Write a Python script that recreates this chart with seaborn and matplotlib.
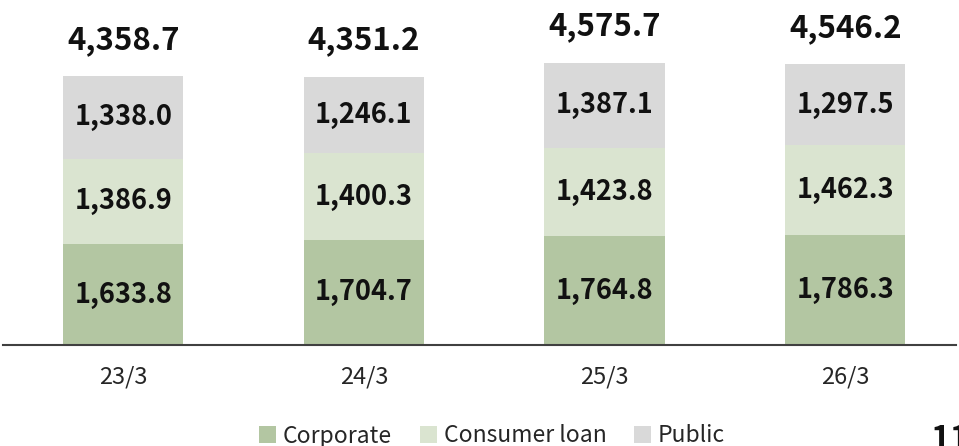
import matplotlib

matplotlib.use("Agg")

import matplotlib.pyplot as plt
import pandas as pd
import seaborn as sns
from matplotlib.patches import Patch

periods = ["23/3", "24/3", "25/3", "26/3"]
corporate = [1633.8, 1704.7, 1764.8, 1786.3]
consumer_loan = [1386.9, 1400.3, 1423.8, 1462.3]
public = [1338.0, 1246.1, 1387.1, 1297.5]
totals = [4358.7, 4351.2, 4575.7, 4546.2]

series_names = ["Corporate", "Consumer loan", "Public"]
colors = ["#B3C6A2", "#DAE4D0", "#D9D9D9"]

sns.set_style("white")
plt.rcParams["font.family"] = ["Noto Sans CJK JP", "DejaVu Sans"]

df = pd.DataFrame({
    "Period": periods,
    "Corporate": corporate,
    "Consumer loan": consumer_loan,
    "Public": public,
})
df["c1"] = df["Corporate"]
df["c2"] = df["c1"] + df["Consumer loan"]
df["c3"] = df["c2"] + df["Public"]

fig = plt.figure(figsize=(9.59, 4.46), dpi=100)
ax = fig.add_axes([3 / 959, 1 - 345 / 446, 953 / 959, 345 / 446])

# draw cumulative heights from the top down so each layer covers the one beneath
for col, color in zip(["c3", "c2", "c1"], colors[::-1]):
    sns.barplot(data=df, x="Period", y=col, color=color, width=0.5,
                saturation=1, ax=ax, edgecolor="none", linewidth=0)

ax.set_ylim(0, 5591)
ax.set_xlim(-0.5, 3.46)
ax.set_xlabel("")
ax.set_ylabel("")
ax.set_yticks([])
sns.despine(ax=ax, left=True, right=True, top=True)
ax.spines["bottom"].set_color("#404040")
ax.spines["bottom"].set_linewidth(1.5)
ax.tick_params(axis="x", length=0, pad=15, labelsize=17, labelcolor="#262626")

for i in range(len(periods)):
    bottoms = [0, corporate[i], corporate[i] + consumer_loan[i]]
    for b, v in zip(bottoms, [corporate[i], consumer_loan[i], public[i]]):
        ax.text(i, b + v / 2, f"{v:,.1f}", ha="center", va="center",
                fontsize=19.5, fontweight="bold", color="#111111")
    ax.annotate(f"{totals[i]:,.1f}", xy=(i, df["c3"][i]), xytext=(0, 26),
                textcoords="offset points", ha="center", va="center",
                fontsize=22.5, fontweight="bold", color="#111111")

handles = [Patch(facecolor=c, edgecolor="none") for c in colors]
fig.legend(handles, series_names, loc="center", bbox_to_anchor=(492 / 959, 1 - 436 / 446),
           ncol=3, frameon=False, fontsize=16.5, handlelength=0.75, handleheight=0.75,
           handletextpad=0.3, columnspacing=1.2, labelcolor="#262626")

fig.text(930 / 959, 1 - 440 / 446, "11", ha="left", va="center",
         fontsize=24, fontweight="bold", color="#111111")

fig.savefig("out.png", dpi=100)
